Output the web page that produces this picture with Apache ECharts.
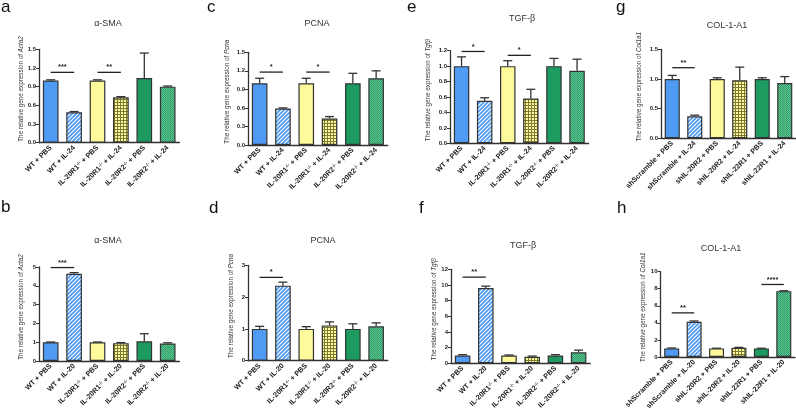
<!DOCTYPE html>
<html><head><meta charset="utf-8">
<script src="https://cdn.jsdelivr.net/npm/echarts@6/dist/echarts.min.js"></script>
<style>html,body{margin:0;padding:0;background:#fff}#c{width:796px;height:412px}</style>
</head><body><div id="c"></div>
<script>
// ---------- data ----------
const catsIL24 = ['WT + PBS','WT + IL-24','IL-20R1-/- + PBS','IL-20R1-/- + IL-24','IL-20R2-/- + PBS','IL-20R2-/- + IL-24'];
const catsIL20 = ['WT + PBS','WT + IL-20','IL-20R1-/- + PBS','IL-20R1-/- + IL-20','IL-20R2-/- + PBS','IL-20R2-/- + IL-20'];
const catsSh24 = ['shScramble + PBS','shScramble + IL-24','shIL-20R2 + PBS','shIL-20R2 + IL-24','shIL-22R1 + PBS','shIL-22R1 + IL-24'];
const catsSh20 = ['shScramble + PBS','shScramble + IL-20','shIL-20R2 + PBS','shIL-20R2 + IL-20','shIL-22R1 + PBS','shIL-22R1 + IL-20'];

const valA = [1.00, 0.49, 1.00, 0.73, 1.04, 0.90];
const semA = [0.01, 0.01, 0.01, 0.01, 0.40, 0.01];
const sigA = [[0, 1, 1.13, '***'], [2, 3, 1.13, '**']];

const valB = [1.00, 4.64, 1.00, 0.95, 1.05, 0.93];
const semB = [0.01, 0.06, 0.01, 0.03, 0.40, 0.04];
const sigB = [[0, 1, 4.97, '***']];

const valC = [1.00, 0.59, 1.00, 0.43, 1.00, 1.08];
const semC = [0.08, 0.01, 0.08, 0.03, 0.16, 0.12];
const sigC = [[0, 1, 1.18, '*'], [2, 3, 1.18, '*']];

const valD = [1.00, 2.36, 1.00, 1.11, 1.00, 1.08];
const semD = [0.08, 0.11, 0.07, 0.11, 0.16, 0.11];
const sigD = [[0, 1, 2.62, '*']];

const valE = [1.00, 0.55, 1.00, 0.58, 1.00, 0.94];
const semE = [0.12, 0.04, 0.07, 0.12, 0.10, 0.15];
const sigE = [[0, 1, 1.19, '*'], [2, 3, 1.14, '*']];

const valF = [1.00, 9.60, 1.00, 0.84, 1.00, 1.40];
const semF = [0.10, 0.25, 0.06, 0.08, 0.10, 0.28];
const sigF = [[0, 1, 11.0, '**']];

const valG = [1.00, 0.37, 1.00, 0.98, 1.00, 0.93];
const semG = [0.06, 0.02, 0.02, 0.22, 0.02, 0.11];
const sigG = [[0, 1, 1.19, '**']];

const valH = [1.00, 4.12, 1.00, 1.08, 1.00, 7.72];
const semH = [0.05, 0.10, 0.02, 0.04, 0.02, 0.04];
const sigH = [[0, 1, 5.17, '**'], [4, 5, 8.5, '****']];

const titles = ['α-SMA', 'α-SMA', 'PCNA', 'PCNA', 'TGF-β', 'TGF-β', 'COL-1-A1', 'COL-1-A1'];
const genes = ['Acta2', 'Acta2', 'Pcna', 'Pcna', 'Tgfβ', 'Tgfβ', 'Col1a1', 'Col1a1'];
const letters = ['a', 'b', 'c', 'd', 'e', 'f', 'g', 'h'];
const yMax = [1.5, 5, 1.5, 3, 1.2, 12, 1.5, 10];
const yStep = [0.3, 1, 0.3, 1, 0.2, 2, 0.5, 2];
const yDec = [1, 0, 1, 0, 1, 0, 1, 0];

// ---------- layout (positions only) ----------
const grids = [
  {left: 39, top: 49.3, width: 140.4, height: 93.4},
  {left: 39, top: 267, width: 140.4, height: 94},
  {left: 248, top: 52.3, width: 139.8, height: 92.7},
  {left: 248, top: 265.3, width: 139.8, height: 95.4},
  {left: 450, top: 50.7, width: 138.6, height: 92.6},
  {left: 451, top: 269.3, width: 139.2, height: 94},
  {left: 661, top: 49.3, width: 135, height: 89},
  {left: 660.5, top: 271.7, width: 134.5, height: 89}
];
const titlePos = [[108, 19.5], [108, 236.5], [317, 19.5], [323, 236.5], [522, 14], [523, 241], [727, 21], [721, 244]];
const letterPos = [[1, -1], [1, 198.5], [207, -1], [209, 199.5], [407, -1], [419, 200], [616, -1], [617, 199.5]];
const nameGaps = [15, 15, 18, 14, 19, 14, 19, 14];

const panels = [
  {cats: catsIL24, val: valA, sem: semA, sig: sigA},
  {cats: catsIL20, val: valB, sem: semB, sig: sigB},
  {cats: catsIL24, val: valC, sem: semC, sig: sigC},
  {cats: catsIL20, val: valD, sem: semD, sig: sigD},
  {cats: catsIL24, val: valE, sem: semE, sig: sigE},
  {cats: catsIL20, val: valF, sem: semF, sig: sigF},
  {cats: catsSh24, val: valG, sem: semG, sig: sigG},
  {cats: catsSh20, val: valH, sem: semH, sig: sigH}
];

// ---------- patterns ----------
function pat(w, h, draw) {
  const c = document.createElement('canvas');
  c.width = w; c.height = h;
  draw(c.getContext('2d'));
  return {image: c, repeat: 'repeat'};
}
const BLUE = '#4f9bf4', YEL = '#fefa9c', GRN = '#1d9a5f';
const blueHatch = pat(4, 4, g => {
  g.fillStyle = BLUE; g.fillRect(0, 0, 4, 4);
  g.strokeStyle = '#ffffff'; g.lineWidth = 1.1;
  g.beginPath();
  g.moveTo(-1, 1); g.lineTo(1, -1);
  g.moveTo(0, 4); g.lineTo(4, 0);
  g.moveTo(3, 5); g.lineTo(5, 3);
  g.stroke();
});
const yelGrid = pat(3, 3, g => {
  g.fillStyle = YEL; g.fillRect(0, 0, 3, 3);
  g.fillStyle = '#7d7a36'; g.fillRect(0, 0, 3, 1); g.fillRect(0, 0, 1, 3);
});
const grnDots = pat(2, 2, g => {
  g.fillStyle = '#27a065'; g.fillRect(0, 0, 2, 2);
  g.fillStyle = '#66c194'; g.fillRect(1, 0, 1, 1); g.fillRect(0, 1, 1, 1);
});
const fills = [BLUE, blueHatch, YEL, yelGrid, GRN, grnDots];

const FONT = 'Liberation Sans, Arial, sans-serif';
const DARK = '#333';

const option = {
  animation: false,
  textStyle: {fontFamily: FONT},
  title: [], grid: [], xAxis: [], yAxis: [], series: []
};

panels.forEach((p, k) => {
  option.grid.push(Object.assign({containLabel: false}, grids[k]));
  option.title.push({
    text: titles[k], left: titlePos[k][0], top: titlePos[k][1], textAlign: 'center', padding: 0,
    textStyle: {fontSize: 9, fontWeight: 'normal', color: DARK, fontFamily: FONT}
  });
  option.title.push({
    text: letters[k], left: letterPos[k][0], top: letterPos[k][1], padding: 0,
    textStyle: {fontSize: 17, fontWeight: 'normal', color: '#111', fontFamily: FONT}
  });
  option.xAxis.push({
    type: 'category', gridIndex: k, data: p.cats,
    axisLine: {lineStyle: {color: DARK, width: 1.3}},
    axisTick: {alignWithLabel: true, length: 3, lineStyle: {color: DARK, width: 1}},
    axisLabel: {
      interval: 0, rotate: 45, margin: 4, fontSize: 7.2, fontWeight: 'bold', color: '#222',
      formatter: v => v.replace(/^(.*?)(-\/-)(.*)$/, '{b|$1}{s|$2}{b|$3}').replace(/^([^{].*)$/, '{b|$1}'),
      rich: {
        b: {fontSize: 7.2, fontWeight: 'bold', color: '#222', fontFamily: FONT},
        s: {fontSize: 4.8, fontWeight: 'bold', color: '#222', fontFamily: FONT, verticalAlign: 'top', padding: [0, 0, 3, 0]}
      }
    }
  });
  option.yAxis.push({
    type: 'value', gridIndex: k, min: 0, max: yMax[k], interval: yStep[k],
    name: 'The relative gene expression of {i|' + genes[k] + '}',
    nameLocation: 'middle', nameGap: nameGaps[k], nameRotate: 90,
    nameTextStyle: {
      fontSize: 6.3, color: DARK, fontFamily: FONT, padding: [0, 0, 0, 14],
      rich: {i: {fontSize: 6.3, fontStyle: 'italic', color: DARK, fontFamily: FONT}}
    },
    axisLine: {show: true, lineStyle: {color: DARK, width: 1.3}},
    axisTick: {show: true, length: 3, lineStyle: {color: DARK, width: 1}},
    splitLine: {show: false},
    axisLabel: {margin: 3, fontSize: 6, fontWeight: 'bold', color: '#222', formatter: v => v.toFixed(yDec[k])}
  });
  option.series.push({
    type: 'bar', xAxisIndex: k, yAxisIndex: k, barWidth: '67%',
    data: p.val.map((v, i) => ({value: v, itemStyle: {color: fills[i]}})),
    itemStyle: {borderColor: DARK, borderWidth: 1.2}
  });
  const sem = p.sem;
  option.series.push({
    type: 'custom', xAxisIndex: k, yAxisIndex: k, z: 5,
    data: p.val.map((v, i) => [i, v, sem[i]]),
    renderItem: (params, api) => {
      const x = api.value(0), v = api.value(1), e = api.value(2);
      const p0 = api.coord([x, v]), p1 = api.coord([x, v + e]);
      const hw = 4.5;
      const st = {stroke: DARK, lineWidth: 1.3};
      return {type: 'group', children: [
        {type: 'line', shape: {x1: p0[0], y1: p0[1], x2: p1[0], y2: p1[1]}, style: st},
        {type: 'line', shape: {x1: p1[0] - hw, y1: p1[1], x2: p1[0] + hw, y2: p1[1]}, style: st}
      ]};
    }
  });
  const sig = p.sig;
  option.series.push({
    type: 'custom', xAxisIndex: k, yAxisIndex: k, z: 6,
    data: sig.map(s => [s[0], s[1], s[2]]),
    renderItem: (params, api) => {
      const a = api.coord([api.value(0), api.value(2)]);
      const b = api.coord([api.value(1), api.value(2)]);
      return {type: 'group', children: [
        {type: 'line', shape: {x1: a[0], y1: a[1], x2: b[0], y2: b[1]}, style: {stroke: '#222', lineWidth: 1.3}},
        {type: 'text', x: (a[0] + b[0]) / 2, y: a[1] - 1, style: {
          text: sig[params.dataIndex][3], x: 0, y: 0, align: 'center', verticalAlign: 'bottom',
          fontSize: 7.5, fontWeight: 'bold', fill: '#222', fontFamily: FONT}}
      ]};
    }
  });
});

const chart = echarts.init(document.getElementById('c'), null, {renderer: 'canvas'});
chart.setOption(option);
</script>
</body></html>
